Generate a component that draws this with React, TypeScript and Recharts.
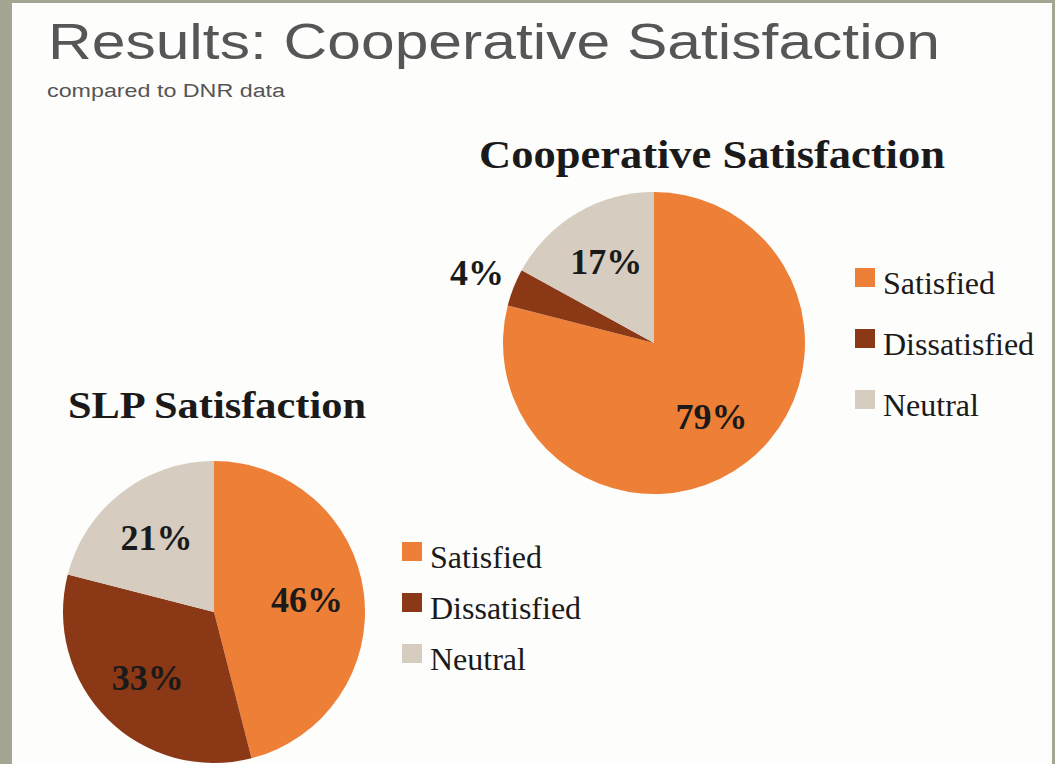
import React from "react";
import { PieChart, Pie, Cell, Legend } from "recharts";

const categories = ["Satisfied", "Dissatisfied", "Neutral"];
const coopValues = [79, 4, 17];
const slpValues = [46, 33, 21];
const colors = ["#EE7F36", "#8A3815", "#D6CCBF"];

const coopData = categories.map((name, i) => ({ name, value: coopValues[i] }));
const slpData = categories.map((name, i) => ({ name, value: slpValues[i] }));

const SERIF = "'Liberation Serif', 'DejaVu Serif', serif";
const SANS = "'Liberation Sans', Arial, sans-serif";
const RAD = Math.PI / 180;
const INK = "#1a1a1a";

const renderLabel = (props: any) => {
  const { cx, cy, midAngle, outerRadius, percent } = props;
  const r = percent < 0.1 ? outerRadius * 1.26 : outerRadius * 0.62;
  const x = cx + r * Math.cos(-midAngle * RAD);
  const y = cy + r * Math.sin(-midAngle * RAD);
  return (
    <text
      x={x}
      y={y}
      textAnchor="middle"
      dominantBaseline="central"
      fontFamily={SERIF}
      fontWeight="bold"
      fontSize={36}
      fill={INK}
    >
      {`${Math.round(percent * 100)}%`}
    </text>
  );
};

const makeLegend = (gap: number) => (props: any) => {
  const payload = [...(props.payload || [])].sort(
    (a: any, b: any) => categories.indexOf(a.value) - categories.indexOf(b.value)
  );
  return (
    <svg width={200} height={gap * 3 + 10} style={{ overflow: "visible" }}>
      {payload.map((p: any, i: number) => {
        const base = 26 + i * gap;
        return (
          <g key={p.value}>
            <rect x={0} y={base - 26} width={20} height={19} fill={p.color} />
            <text x={28} y={base} fontFamily={SERIF} fontSize={32} fill={INK}>
              {p.value}
            </text>
          </g>
        );
      })}
    </svg>
  );
};

export default function App() {
  return (
    <div
      style={{
        position: "fixed",
        left: 0,
        top: 0,
        width: 1055,
        height: 764,
        background: "#A4A593",
        overflow: "hidden",
      }}
    >
      <div
        style={{
          position: "absolute",
          left: 12,
          top: 3,
          width: 1040,
          height: 770,
          background: "#FDFDFC",
        }}
      />
      <svg
        width={1055}
        height={764}
        style={{ position: "absolute", left: 0, top: 0 }}
      >
        <text
          x={48}
          y={59}
          fontFamily={SANS}
          fontSize={50}
          fill="#565656"
          textLength={892}
          lengthAdjust="spacingAndGlyphs"
        >
          Results: Cooperative Satisfaction
        </text>
        <text
          x={47}
          y={97}
          fontFamily={SANS}
          fontSize={18}
          fill="#555555"
          textLength={238}
          lengthAdjust="spacingAndGlyphs"
        >
          compared to DNR data
        </text>
        <text
          x={479}
          y={168}
          fontFamily={SERIF}
          fontWeight="bold"
          fontSize={41}
          fill={INK}
          textLength={466}
          lengthAdjust="spacingAndGlyphs"
        >
          Cooperative Satisfaction
        </text>
        <text
          x={68}
          y={418}
          fontFamily={SERIF}
          fontWeight="bold"
          fontSize={38}
          fill={INK}
          textLength={298}
          lengthAdjust="spacingAndGlyphs"
        >
          SLP Satisfaction
        </text>
      </svg>

      <div style={{ position: "absolute", left: 440, top: 150 }}>
        <PieChart width={600} height={380}>
          <Pie
            data={coopData}
            dataKey="value"
            nameKey="name"
            cx={209}
            cy={188}
            outerRadius={151}
            startAngle={90}
            endAngle={-270}
            stroke="none"
            label={renderLabel}
            labelLine={false}
            isAnimationActive={false}
          >
            {coopData.map((d, i) => (
              <Cell key={d.name} fill={colors[i]} />
            ))}
          </Pie>
          <Legend
            content={makeLegend(61)}
            wrapperStyle={{ position: "absolute", left: 415, top: 118, width: 200 }}
          />
        </PieChart>
      </div>

      <div style={{ position: "absolute", left: 0, top: 440 }}>
        <PieChart width={620} height={324}>
          <Pie
            data={slpData}
            dataKey="value"
            nameKey="name"
            cx={209}
            cy={167}
            outerRadius={151}
            startAngle={90}
            endAngle={-270}
            stroke="none"
            label={renderLabel}
            labelLine={false}
            isAnimationActive={false}
          >
            {slpData.map((d, i) => (
              <Cell key={d.name} fill={colors[i]} />
            ))}
          </Pie>
          <Legend
            content={makeLegend(51)}
            wrapperStyle={{ position: "absolute", left: 402, top: 102, width: 200 }}
          />
        </PieChart>
      </div>
    </div>
  );
}
